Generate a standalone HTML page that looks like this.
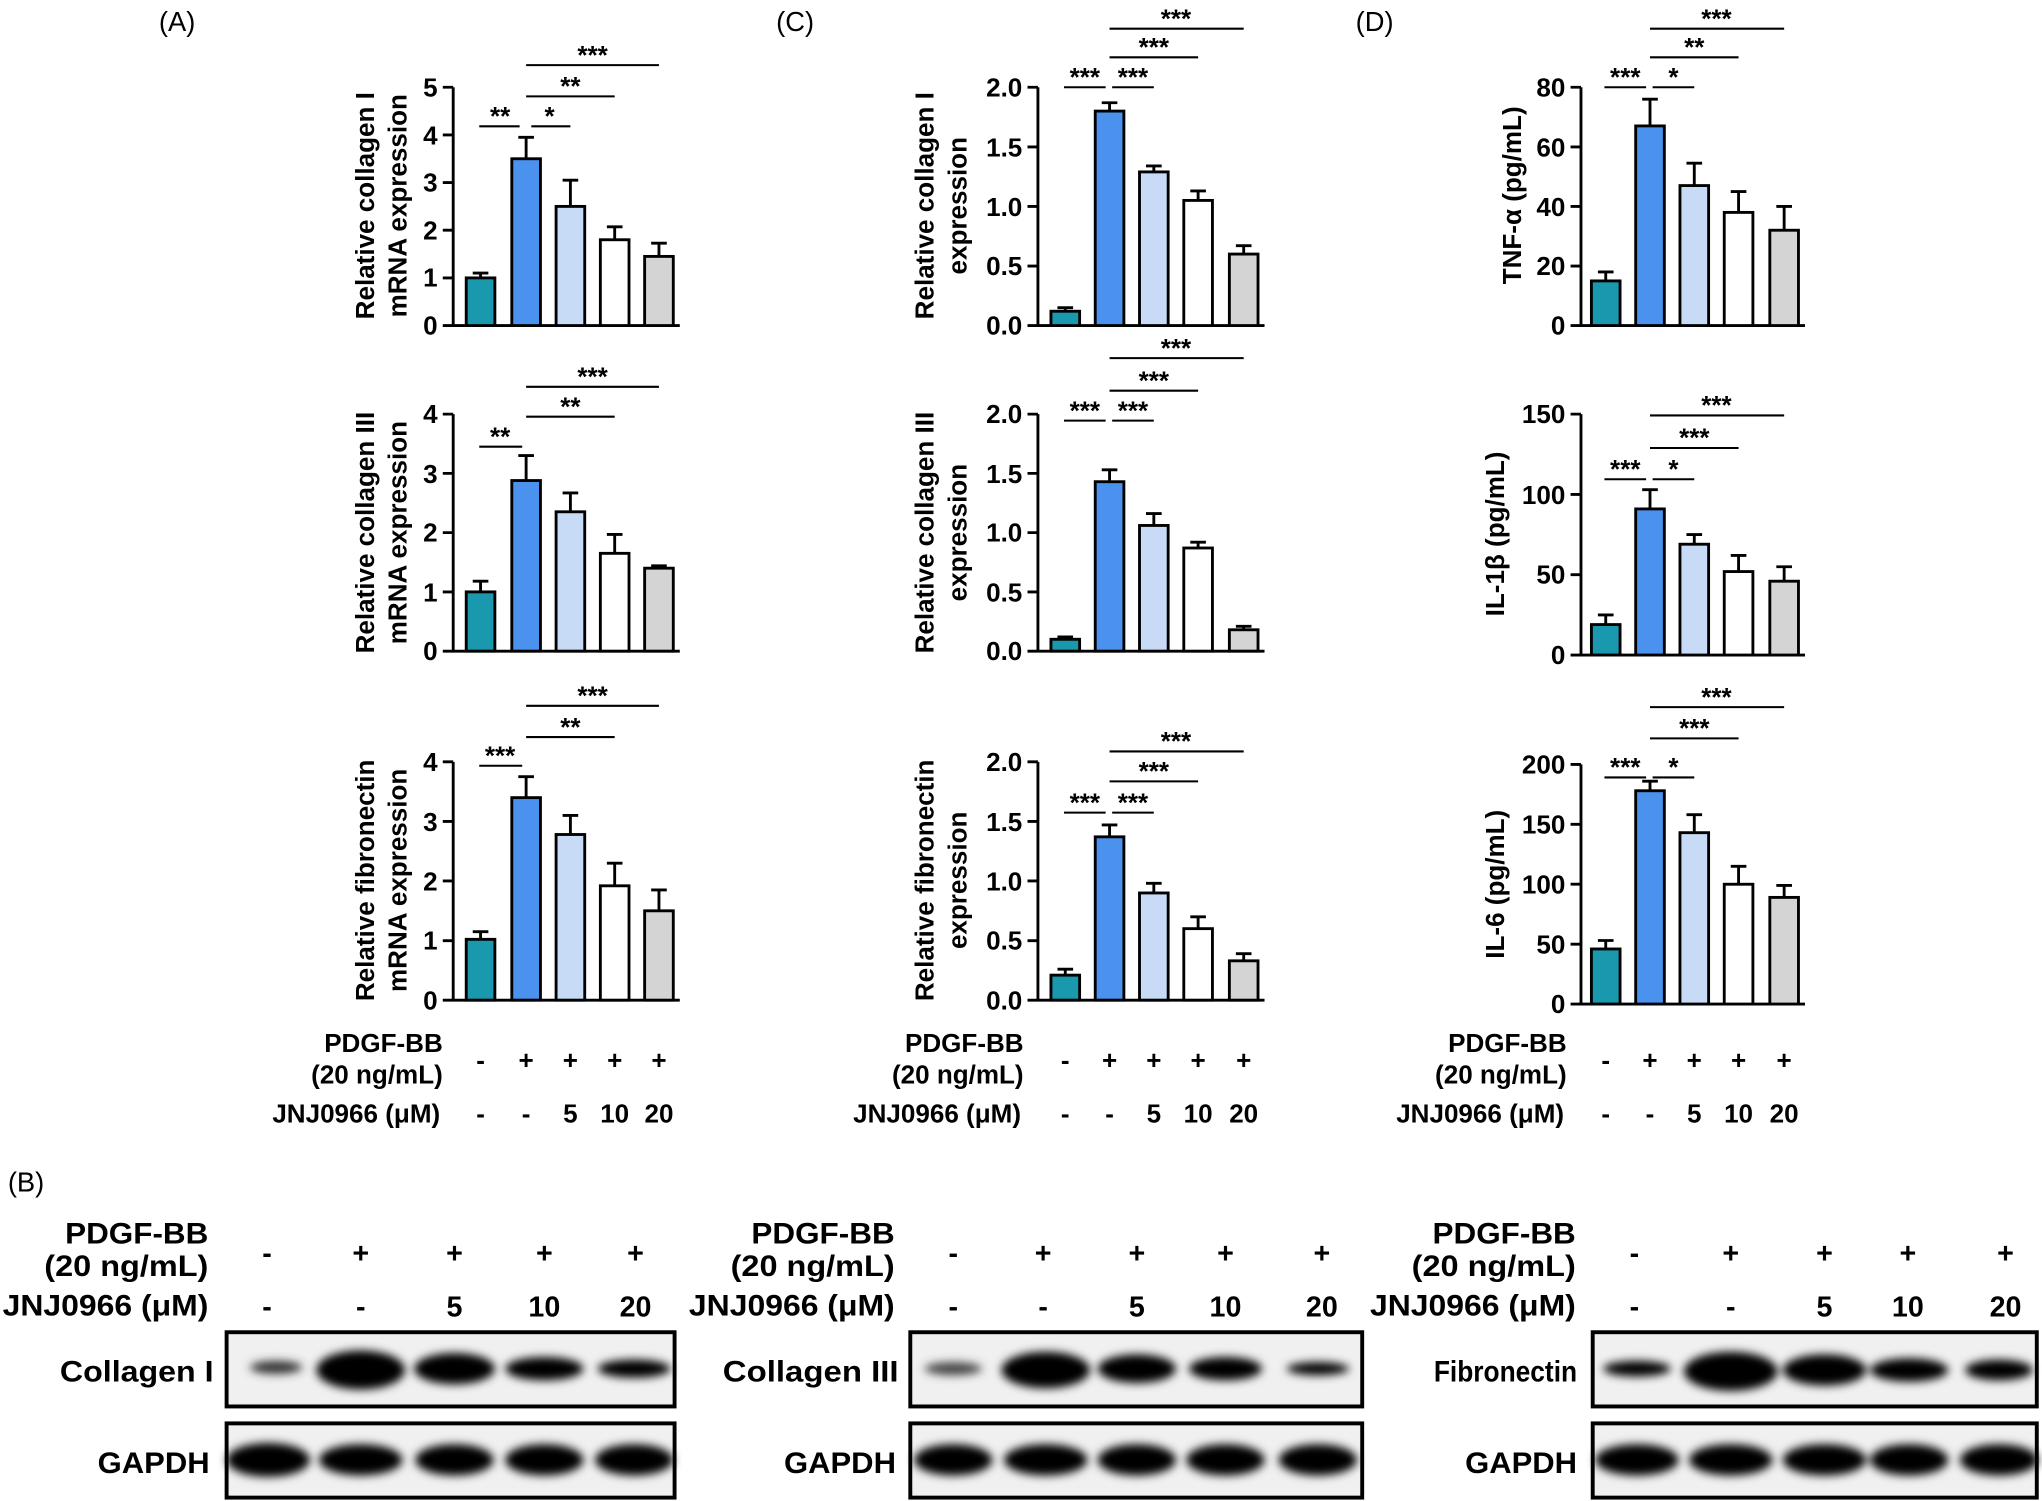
<!DOCTYPE html><html><head><style>body{margin:0;background:#fff}svg{display:block}text{font-family:"Liberation Sans",sans-serif}</style></head><body>
<svg width="2042" height="1501" viewBox="0 0 1568 1152.6" preserveAspectRatio="none" xmlns="http://www.w3.org/2000/svg">
<defs><filter id="bl" x="-20%" y="-50%" width="140%" height="200%"><feGaussianBlur stdDeviation="3.5"/></filter></defs>
<g font-size="21"><text x="122" y="24">(A)</text><text x="596" y="24">(C)</text><text x="1041" y="24">(D)</text><text x="6" y="915">(B)</text></g>

<g stroke="#000" stroke-width="2.2" fill="none">
<path d="M348,67V250H522M340,250H348M340,213.4H348M340,176.8H348M340,140.2H348M340,103.6H348M340,67H348"/>
<path d="M348,318V500H522M340,500H348M340,454.5H348M340,409H348M340,363.5H348M340,318H348"/>
<path d="M348,585V768H522M340,768H348M340,722.3H348M340,676.5H348M340,630.8H348M340,585H348"/>
<path d="M797,67V250H971M789,250H797M789,204.3H797M789,158.5H797M789,112.8H797M789,67H797"/>
<path d="M797,318V500H971M789,500H797M789,454.5H797M789,409H797M789,363.5H797M789,318H797"/>
<path d="M797,585V768H971M789,768H797M789,722.3H797M789,676.5H797M789,630.8H797M789,585H797"/>
<path d="M1214,67V250H1386M1206,250H1214M1206,204.3H1214M1206,158.5H1214M1206,112.8H1214M1206,67H1214"/>
<path d="M1214,318V503H1386M1206,503H1214M1206,441.3H1214M1206,379.7H1214M1206,318H1214"/>
<path d="M1214,587V771H1386M1206,771H1214M1206,725H1214M1206,679H1214M1206,633H1214M1206,587H1214"/>
</g>

<g font-size="20" font-weight="bold" text-anchor="end">
<text x="336" y="257">0</text><text x="336" y="220">1</text><text x="336" y="184">2</text><text x="336" y="147">3</text><text x="336" y="111">4</text><text x="336" y="74">5</text>
<text x="336" y="507">0</text><text x="336" y="462">1</text><text x="336" y="416">2</text><text x="336" y="371">3</text><text x="336" y="325">4</text>
<text x="336" y="775">0</text><text x="336" y="729">1</text><text x="336" y="684">2</text><text x="336" y="638">3</text><text x="336" y="592">4</text>
<text x="785" y="257">0.0</text><text x="785" y="211">0.5</text><text x="785" y="166">1.0</text><text x="785" y="120">1.5</text><text x="785" y="74">2.0</text>
<text x="785" y="507">0.0</text><text x="785" y="462">0.5</text><text x="785" y="416">1.0</text><text x="785" y="371">1.5</text><text x="785" y="325">2.0</text>
<text x="785" y="775">0.0</text><text x="785" y="729">0.5</text><text x="785" y="684">1.0</text><text x="785" y="638">1.5</text><text x="785" y="592">2.0</text>
<text x="1202" y="257">0</text><text x="1202" y="211">20</text><text x="1202" y="166">40</text><text x="1202" y="120">60</text><text x="1202" y="74">80</text>
<text x="1202" y="510">0</text><text x="1202" y="448">50</text><text x="1202" y="387">100</text><text x="1202" y="325">150</text>
<text x="1202" y="778">0</text><text x="1202" y="732">50</text><text x="1202" y="686">100</text><text x="1202" y="640">150</text><text x="1202" y="594">200</text>
</g>

<g font-size="20" font-weight="bold" text-anchor="middle">
<text transform="translate(287,158) rotate(-90)">Relative collagen I</text><text transform="translate(312,158) rotate(-90)">mRNA expression</text>
<text transform="translate(287,409) rotate(-90)">Relative collagen III</text><text transform="translate(312,409) rotate(-90)">mRNA expression</text>
<text transform="translate(287,676) rotate(-90)">Relative fibronectin</text><text transform="translate(312,676) rotate(-90)">mRNA expression</text>
<text transform="translate(717,158) rotate(-90)">Relative collagen I</text><text transform="translate(742,158) rotate(-90)">expression</text>
<text transform="translate(717,409) rotate(-90)">Relative collagen III</text><text transform="translate(742,409) rotate(-90)">expression</text>
<text transform="translate(717,676) rotate(-90)">Relative fibronectin</text><text transform="translate(742,676) rotate(-90)">expression</text>
<text transform="translate(1168,150) rotate(-90)">TNF-α (pg/mL)</text>
<text transform="translate(1155,410) rotate(-90)">IL-1β (pg/mL)</text>
<text transform="translate(1155,679) rotate(-90)">IL-6 (pg/mL)</text>
</g>

<g stroke="#000" stroke-width="2.2">
<rect x="358" y="213.4" width="22" height="36.6" fill="#1a98ad"/><rect x="393" y="121.9" width="22" height="128.1" fill="#4a92ee"/><rect x="427" y="158.5" width="22" height="91.5" fill="#c8dbf6"/><rect x="461" y="184.1" width="22" height="65.9" fill="#fff"/><rect x="495" y="196.9" width="22" height="53.1" fill="#d4d4d4"/>
<path fill="none" d="M369,213.4V209.7M363,209.7H375M404,121.9V105.4M398,105.4H410M438,158.5V138.4M432,138.4H444M472,184.1V174.2M466,174.2H478M506,196.9V186.7M500,186.7H512"/>
<rect x="358" y="454.5" width="22" height="45.5" fill="#1a98ad"/><rect x="393" y="369" width="22" height="131" fill="#4a92ee"/><rect x="427" y="393" width="22" height="107" fill="#c8dbf6"/><rect x="461" y="424.9" width="22" height="75.1" fill="#fff"/><rect x="495" y="436.3" width="22" height="63.7" fill="#d4d4d4"/>
<path fill="none" d="M369,454.5V446.3M363,446.3H375M404,369V349.8M398,349.8H410M438,393V378.5M432,378.5H444M472,424.9V410.4M466,410.4H478M506,436.3V434.5M500,434.5H512"/>
<rect x="358" y="721.3" width="22" height="46.7" fill="#1a98ad"/><rect x="393" y="612.5" width="22" height="155.5" fill="#4a92ee"/><rect x="427" y="640.8" width="22" height="127.2" fill="#c8dbf6"/><rect x="461" y="680.2" width="22" height="87.8" fill="#fff"/><rect x="495" y="699.4" width="22" height="68.6" fill="#d4d4d4"/>
<path fill="none" d="M369,721.3V715.4M363,715.4H375M404,612.5V596.4M398,596.4H410M438,640.8V626.2M432,626.2H444M472,680.2V662.8M466,662.8H478M506,699.4V683.4M500,683.4H512"/>
<rect x="807" y="239" width="22" height="11" fill="#1a98ad"/><rect x="841" y="85.3" width="22" height="164.7" fill="#4a92ee"/><rect x="875" y="132" width="22" height="118" fill="#c8dbf6"/><rect x="909" y="153.9" width="22" height="96.1" fill="#fff"/><rect x="944" y="195.1" width="22" height="54.9" fill="#d4d4d4"/>
<path fill="none" d="M818,239V236.3M812,236.3H824M852,85.3V78.9M846,78.9H858M886,132V127.4M880,127.4H892M920,153.9V146.6M914,146.6H926M955,195.1V188.7M949,188.7H961"/>
<rect x="807" y="490.9" width="22" height="9.1" fill="#1a98ad"/><rect x="841" y="369.9" width="22" height="130.1" fill="#4a92ee"/><rect x="875" y="403.5" width="22" height="96.5" fill="#c8dbf6"/><rect x="909" y="420.8" width="22" height="79.2" fill="#fff"/><rect x="944" y="483.6" width="22" height="16.4" fill="#d4d4d4"/>
<path fill="none" d="M818,490.9V489.1M812,489.1H824M852,369.9V360.8M846,360.8H858M886,403.5V394.4M880,394.4H892M920,420.8V416.3M914,416.3H926M955,483.6V480.9M949,480.9H961"/>
<rect x="807" y="748.8" width="22" height="19.2" fill="#1a98ad"/><rect x="841" y="642.6" width="22" height="125.4" fill="#4a92ee"/><rect x="875" y="685.7" width="22" height="82.3" fill="#c8dbf6"/><rect x="909" y="713.1" width="22" height="54.9" fill="#fff"/><rect x="944" y="737.8" width="22" height="30.2" fill="#d4d4d4"/>
<path fill="none" d="M818,748.8V744.2M812,744.2H824M852,642.6V633.5M846,633.5H858M886,685.7V678.3M880,678.3H892M920,713.1V704M914,704H926M955,737.8V732.3M949,732.3H961"/>
<rect x="1222" y="215.7" width="22" height="34.3" fill="#1a98ad"/><rect x="1256" y="96.7" width="22" height="153.3" fill="#4a92ee"/><rect x="1290" y="142.5" width="22" height="107.5" fill="#c8dbf6"/><rect x="1324" y="163.1" width="22" height="86.9" fill="#fff"/><rect x="1359" y="176.8" width="22" height="73.2" fill="#d4d4d4"/>
<path fill="none" d="M1233,215.7V208.8M1227,208.8H1239M1267,96.7V76.2M1261,76.2H1273M1301,142.5V125.3M1295,125.3H1307M1335,163.1V147.1M1329,147.1H1341M1370,176.8V158.5M1364,158.5H1376"/>
<rect x="1222" y="479.6" width="22" height="23.4" fill="#1a98ad"/><rect x="1256" y="390.8" width="22" height="112.2" fill="#4a92ee"/><rect x="1290" y="417.9" width="22" height="85.1" fill="#c8dbf6"/><rect x="1324" y="438.9" width="22" height="64.1" fill="#fff"/><rect x="1359" y="446.3" width="22" height="56.7" fill="#d4d4d4"/>
<path fill="none" d="M1233,479.6V472.2M1227,472.2H1239M1267,390.8V376M1261,376H1273M1301,417.9V410.5M1295,410.5H1307M1335,438.9V426.5M1329,426.5H1341M1370,446.3V435.2M1364,435.2H1376"/>
<rect x="1222" y="728.7" width="22" height="42.3" fill="#1a98ad"/><rect x="1256" y="607.2" width="22" height="163.8" fill="#4a92ee"/><rect x="1290" y="639.4" width="22" height="131.6" fill="#c8dbf6"/><rect x="1324" y="679" width="22" height="92" fill="#fff"/><rect x="1359" y="689.1" width="22" height="81.9" fill="#d4d4d4"/>
<path fill="none" d="M1233,728.7V722.2M1227,722.2H1239M1267,607.2V599.9M1261,599.9H1273M1301,639.4V625.6M1295,625.6H1307M1335,679V665.2M1329,665.2H1341M1370,689.1V679.9M1364,679.9H1376"/>
</g>

<g stroke="#000" stroke-width="1.6" fill="none">
<path d="M368,97H399M408,97H438M404,74H472M404,50H506"/>
<path d="M368,343H401M404,320H472M404,297H506"/>
<path d="M368,588H401M404,566H472M404,542H506"/>
<path d="M817,67H849M854,67H886M852,44H920M852,22H955"/>
<path d="M817,323H849M854,323H886M852,300H920M852,275H955"/>
<path d="M817,624H849M854,624H886M852,600H920M852,577H955"/>
<path d="M1232,67H1264M1269,67H1301M1267,44H1335M1267,22H1370"/>
<path d="M1232,368H1264M1269,368H1301M1267,344H1335M1267,319H1370"/>
<path d="M1232,597H1264M1269,597H1301M1267,567H1335M1267,543H1370"/>
</g>
<g font-size="20" font-weight="bold" text-anchor="middle">
<text x="384" y="96">**</text><text x="422" y="96">*</text><text x="438" y="73">**</text><text x="455" y="49">***</text>
<text x="384" y="342">**</text><text x="438" y="319">**</text><text x="455" y="296">***</text>
<text x="384" y="587">***</text><text x="438" y="565">**</text><text x="455" y="541">***</text>
<text x="833" y="66">***</text><text x="870" y="66">***</text><text x="886" y="43">***</text><text x="903" y="21">***</text>
<text x="833" y="322">***</text><text x="870" y="322">***</text><text x="886" y="299">***</text><text x="903" y="274">***</text>
<text x="833" y="623">***</text><text x="870" y="623">***</text><text x="886" y="599">***</text><text x="903" y="576">***</text>
<text x="1248" y="66">***</text><text x="1285" y="66">*</text><text x="1301" y="43">**</text><text x="1318" y="21">***</text>
<text x="1248" y="367">***</text><text x="1285" y="367">*</text><text x="1301" y="343">***</text><text x="1318" y="318">***</text>
<text x="1248" y="596">***</text><text x="1285" y="596">*</text><text x="1301" y="566">***</text><text x="1318" y="542">***</text>
</g>

<g font-size="20" font-weight="bold">
<g text-anchor="end">
<text x="340" y="808">PDGF-BB</text><text x="340" y="832">(20 ng/mL)</text><text x="338" y="862">JNJ0966 (μM)</text>
<text x="786" y="808">PDGF-BB</text><text x="786" y="832">(20 ng/mL)</text><text x="784" y="862">JNJ0966 (μM)</text>
<text x="1203" y="808">PDGF-BB</text><text x="1203" y="832">(20 ng/mL)</text><text x="1201" y="862">JNJ0966 (μM)</text>
</g>
<g text-anchor="middle">
<text x="369" y="821">-</text><text x="404" y="821">+</text><text x="438" y="821">+</text><text x="472" y="821">+</text><text x="506" y="821">+</text>
<text x="369" y="862">-</text><text x="404" y="862">-</text><text x="438" y="862">5</text><text x="472" y="862">10</text><text x="506" y="862">20</text>
<text x="818" y="821">-</text><text x="852" y="821">+</text><text x="886" y="821">+</text><text x="920" y="821">+</text><text x="955" y="821">+</text>
<text x="818" y="862">-</text><text x="852" y="862">-</text><text x="886" y="862">5</text><text x="920" y="862">10</text><text x="955" y="862">20</text>
<text x="1233" y="821">-</text><text x="1267" y="821">+</text><text x="1301" y="821">+</text><text x="1335" y="821">+</text><text x="1370" y="821">+</text>
<text x="1233" y="862">-</text><text x="1267" y="862">-</text><text x="1301" y="862">5</text><text x="1335" y="862">10</text><text x="1370" y="862">20</text>
</g>
</g>

<g font-size="23" font-weight="bold">
<g text-anchor="end" lengthAdjust="spacingAndGlyphs">
<text x="160" y="955" textLength="110" lengthAdjust="spacingAndGlyphs">PDGF-BB</text><text x="160" y="980" textLength="126" lengthAdjust="spacingAndGlyphs">(20 ng/mL)</text><text x="160" y="1010" textLength="158" lengthAdjust="spacingAndGlyphs">JNJ0966 (μM)</text>
<text x="687" y="955" textLength="110" lengthAdjust="spacingAndGlyphs">PDGF-BB</text><text x="687" y="980" textLength="126" lengthAdjust="spacingAndGlyphs">(20 ng/mL)</text><text x="687" y="1010" textLength="158" lengthAdjust="spacingAndGlyphs">JNJ0966 (μM)</text>
<text x="1210" y="955" textLength="110" lengthAdjust="spacingAndGlyphs">PDGF-BB</text><text x="1210" y="980" textLength="126" lengthAdjust="spacingAndGlyphs">(20 ng/mL)</text><text x="1210" y="1010" textLength="158" lengthAdjust="spacingAndGlyphs">JNJ0966 (μM)</text>
<text x="164" y="1061" textLength="118" lengthAdjust="spacingAndGlyphs">Collagen I</text><text x="161" y="1131" textLength="86" lengthAdjust="spacingAndGlyphs">GAPDH</text>
<text x="690" y="1061" textLength="135" lengthAdjust="spacingAndGlyphs">Collagen III</text><text x="688" y="1131" textLength="86" lengthAdjust="spacingAndGlyphs">GAPDH</text>
<text x="1211" y="1061" textLength="110" lengthAdjust="spacingAndGlyphs">Fibronectin</text><text x="1211" y="1131" textLength="86" lengthAdjust="spacingAndGlyphs">GAPDH</text>
</g>
<g text-anchor="middle" font-size="22">
<text x="205" y="970">-</text><text x="277" y="970">+</text><text x="349" y="970">+</text><text x="418" y="970">+</text><text x="488" y="970">+</text>
<text x="205" y="1011">-</text><text x="277" y="1011">-</text><text x="349" y="1011">5</text><text x="418" y="1011">10</text><text x="488" y="1011">20</text>
<text x="732" y="970">-</text><text x="801" y="970">+</text><text x="873" y="970">+</text><text x="941" y="970">+</text><text x="1015" y="970">+</text>
<text x="732" y="1011">-</text><text x="801" y="1011">-</text><text x="873" y="1011">5</text><text x="941" y="1011">10</text><text x="1015" y="1011">20</text>
<text x="1255" y="970">-</text><text x="1329" y="970">+</text><text x="1401" y="970">+</text><text x="1465" y="970">+</text><text x="1540" y="970">+</text>
<text x="1255" y="1011">-</text><text x="1329" y="1011">-</text><text x="1401" y="1011">5</text><text x="1465" y="1011">10</text><text x="1540" y="1011">20</text>
</g>
</g>
<g stroke="#000" stroke-width="3" fill="#f0f0f0">
<rect x="174" y="1023" width="344" height="57"/><rect x="174" y="1093" width="344" height="57"/>
<rect x="699" y="1023" width="347" height="57"/><rect x="699" y="1093" width="347" height="57"/>
<rect x="1223" y="1023" width="341" height="57"/><rect x="1223" y="1093" width="341" height="57"/>
</g>
<g fill="#000" filter="url(#bl)">
<ellipse cx="212" cy="1050" rx="20" ry="5" fill="#333"/><ellipse cx="277" cy="1052" rx="34" ry="15"/><ellipse cx="349" cy="1051" rx="31" ry="12"/><ellipse cx="418" cy="1051" rx="30" ry="9"/><ellipse cx="487" cy="1051" rx="28" ry="7"/>
<ellipse cx="206" cy="1121" rx="32" ry="13"/><ellipse cx="277" cy="1121" rx="32" ry="12"/><ellipse cx="349" cy="1121" rx="30" ry="12"/><ellipse cx="418" cy="1121" rx="30" ry="12"/><ellipse cx="487" cy="1121" rx="30" ry="12"/>
<ellipse cx="732" cy="1051" rx="22" ry="5" fill="#444"/><ellipse cx="803" cy="1052" rx="34" ry="14"/><ellipse cx="873" cy="1051" rx="30" ry="11"/><ellipse cx="941" cy="1051" rx="28" ry="9"/><ellipse cx="1012" cy="1051" rx="24" ry="5"/>
<ellipse cx="732" cy="1121" rx="30" ry="12"/><ellipse cx="803" cy="1121" rx="32" ry="12"/><ellipse cx="873" cy="1121" rx="30" ry="12"/><ellipse cx="941" cy="1121" rx="30" ry="12"/><ellipse cx="1012" cy="1121" rx="30" ry="12"/>
<ellipse cx="1257" cy="1051" rx="26" ry="6"/><ellipse cx="1329" cy="1053" rx="36" ry="15"/><ellipse cx="1401" cy="1052" rx="32" ry="12"/><ellipse cx="1466" cy="1052" rx="30" ry="9"/><ellipse cx="1535" cy="1052" rx="26" ry="8"/>
<ellipse cx="1257" cy="1121" rx="32" ry="12"/><ellipse cx="1329" cy="1121" rx="32" ry="12"/><ellipse cx="1401" cy="1121" rx="32" ry="12"/><ellipse cx="1466" cy="1121" rx="30" ry="12"/><ellipse cx="1535" cy="1121" rx="30" ry="12"/>
</g>
</svg>
</body></html>
